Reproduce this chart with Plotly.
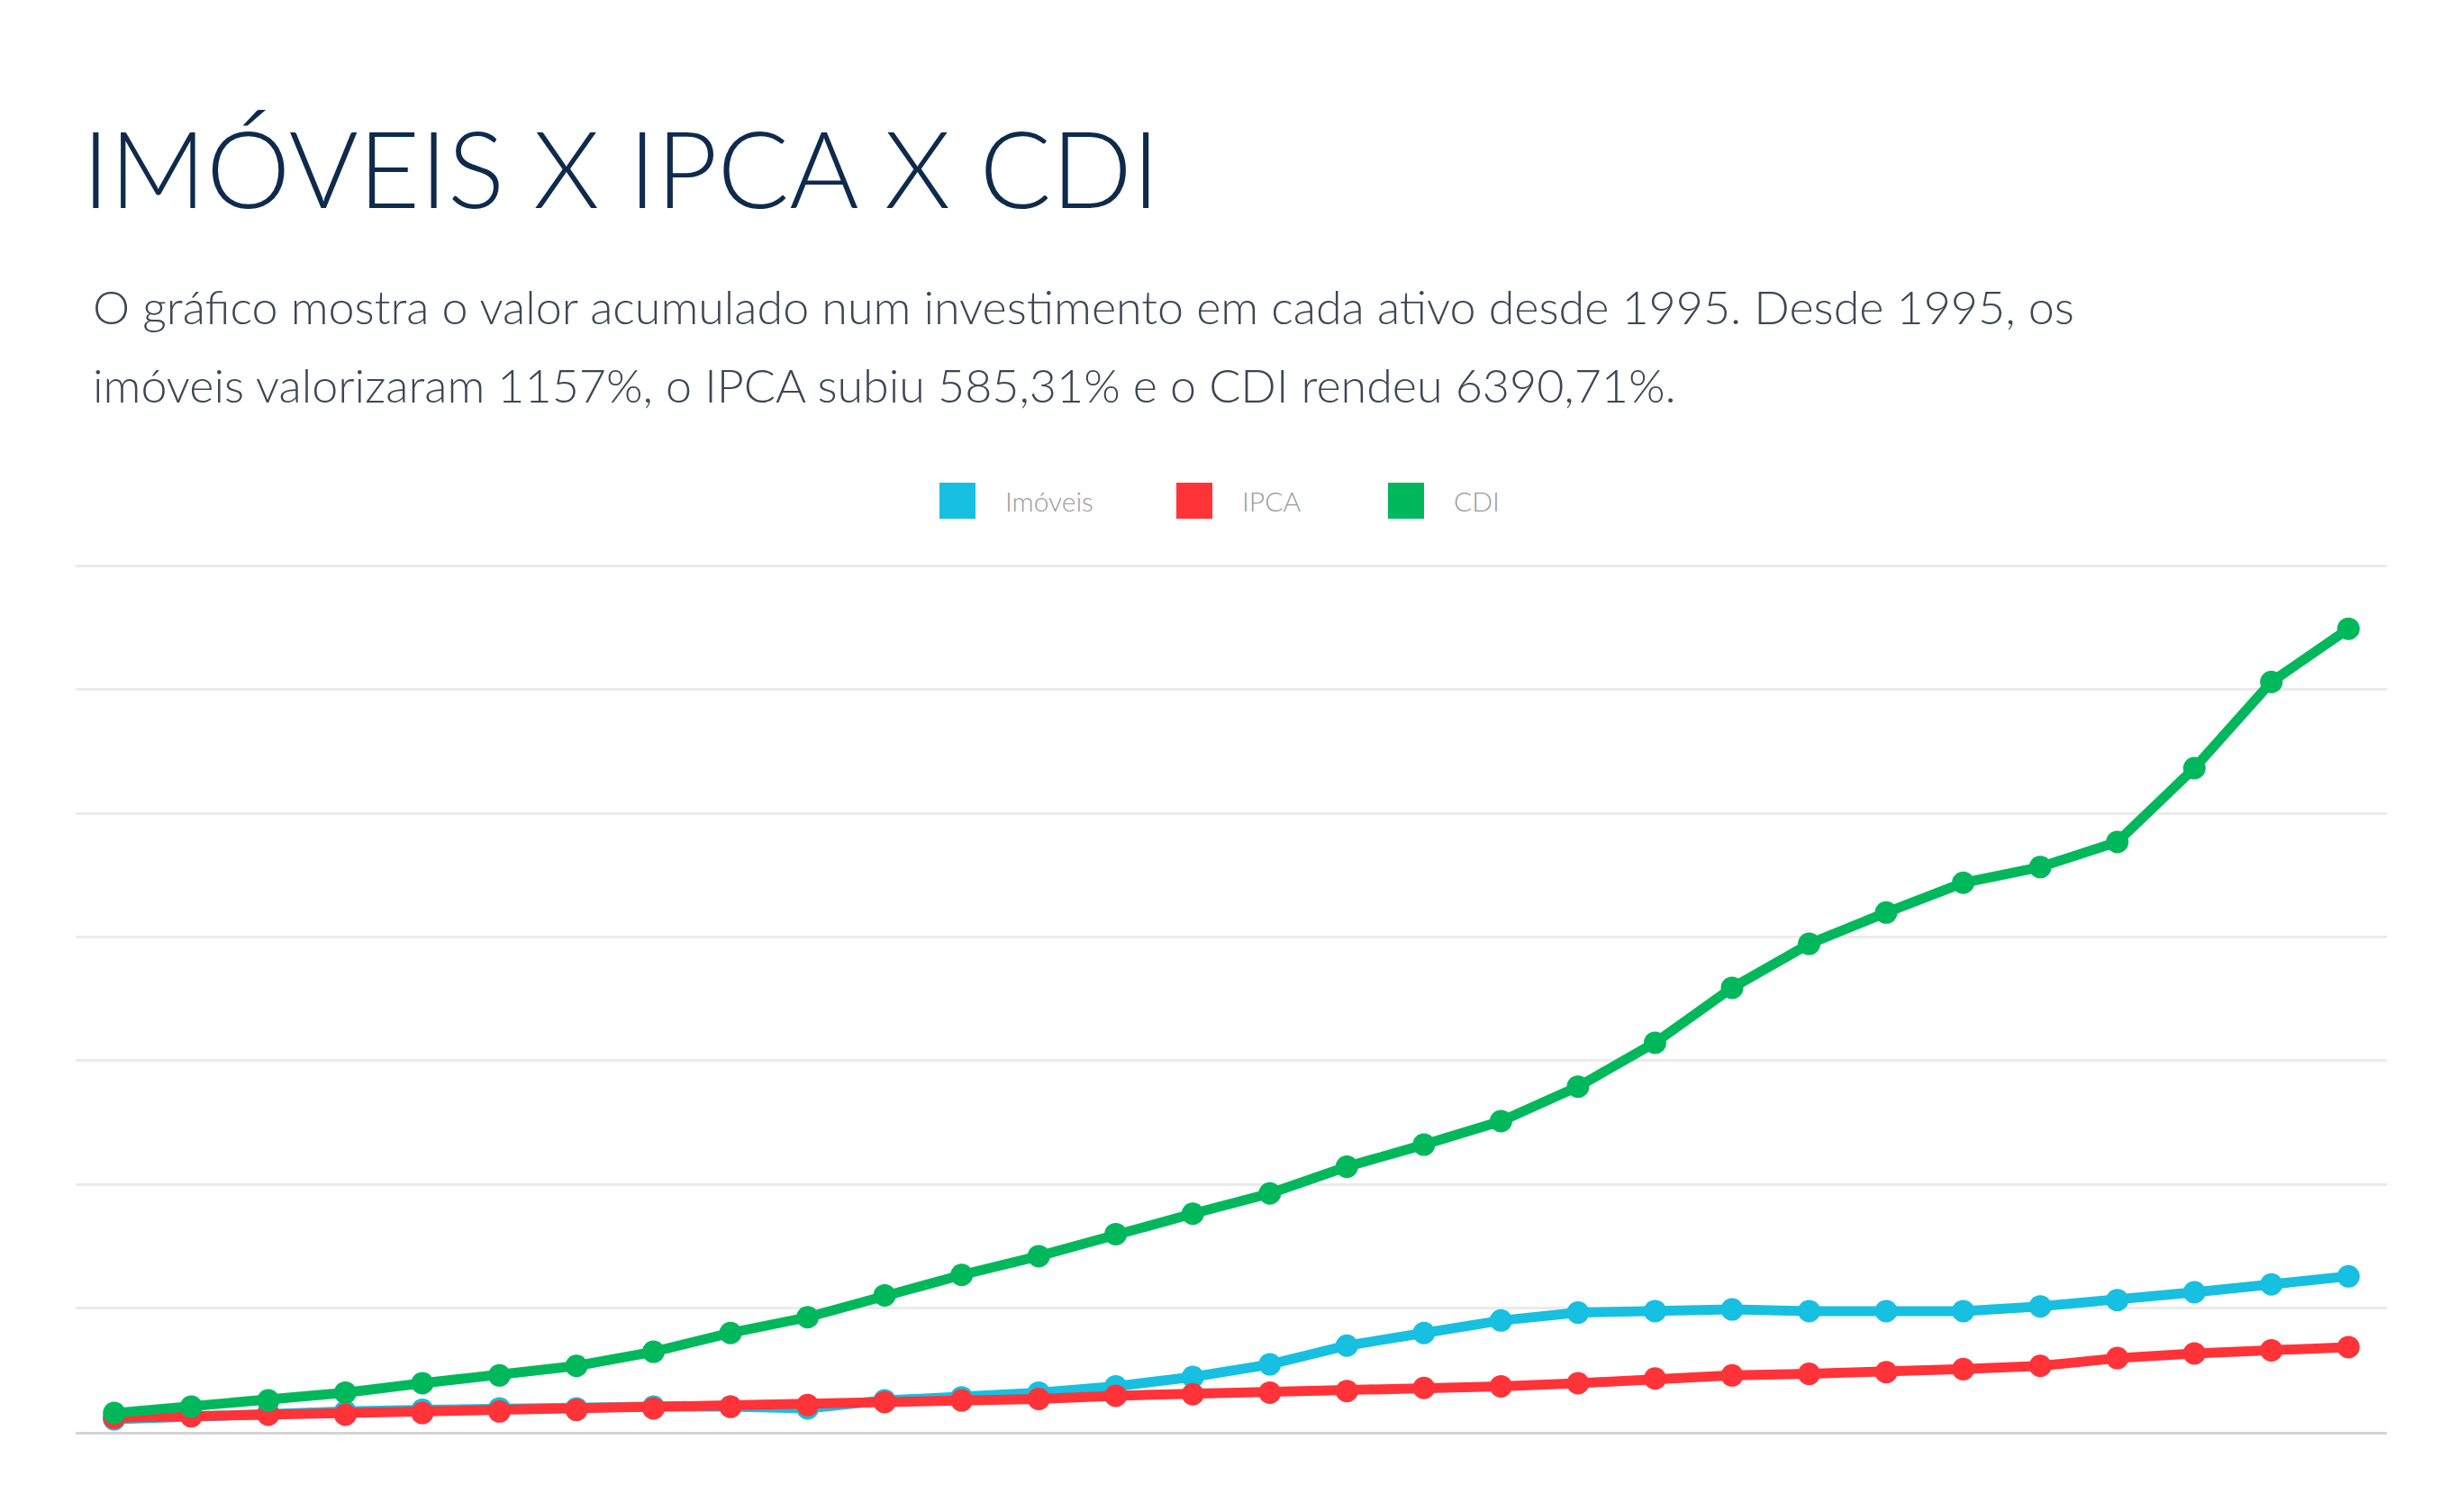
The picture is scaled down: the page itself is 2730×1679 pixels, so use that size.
import plotly.graph_objects as go

anos = [str(a) for a in range(1995, 2025)]

# valor acumulado (base ~100 em 1995)
imoveis = [101, 127, 152, 165, 178, 190, 190, 203, 203, 190,
           254, 279, 317, 368, 444, 545, 697, 799, 900, 964,
           976, 989, 976, 976, 976, 1014, 1065, 1128, 1192, 1257]
ipca = [114, 127, 139, 139, 152, 165, 178, 190, 203, 216,
        241, 254, 266, 292, 304, 317, 330, 355, 368, 393,
        431, 456, 469, 482, 507, 533, 596, 634, 659, 685]
cdi = [152, 203, 254, 317, 393, 456, 533, 647, 799, 926,
       1103, 1268, 1420, 1598, 1763, 1927, 2143, 2321, 2511, 2790,
       3145, 3589, 3944, 4197, 4438, 4565, 4768, 5364, 6061, 6491]

nomes = ["Imóveis", "IPCA", "CDI"]
cores = ["#17bfe0", "#ff3338", "#00b85c"]
series = [imoveis, ipca, cdi]

titulo = "IMÓVEIS X IPCA X CDI"
subtitulo_1 = "O gráfico mostra o valor acumulado num investimento em cada ativo desde 1995. Desde 1995, os"
subtitulo_2 = "imóveis valorizaram 1157%, o IPCA subiu 585,31% e o CDI rendeu 6390,71%."

# a pagina tem 8px de margem no body
OFF = 8
W, H = 2730 - 2 * OFF, 1679 - 2 * OFF
L, R, T, B = 84 - OFF, 80 - OFF, 620 - OFF, 89 - OFF
pw, ph = W - L - R, H - T - B


def px_x(px):
    return (px - OFF - L) / pw


def px_y(py):
    return (H - B - (py - OFF)) / ph


fig = go.Figure()
for nome, cor, valores in zip(nomes, cores, series):
    fig.add_trace(go.Scatter(
        x=anos, y=valores, name=nome, mode="lines+markers",
        line=dict(color=cor, width=11),
        marker=dict(color=cor, size=25),
        showlegend=False,
    ))

# legenda desenhada a mao (quadrados grandes)
leg_x = [1043, 1306, 1541]
for nome, cor, x0 in zip(nomes, cores, leg_x):
    fig.add_shape(type="rect", xref="paper", yref="paper",
                  x0=px_x(x0), x1=px_x(x0 + 40), y0=px_y(576), y1=px_y(536),
                  fillcolor=cor, line=dict(width=0))
    fig.add_annotation(text=nome, xref="paper", yref="paper",
                       x=px_x(x0 + 71), y=px_y(556), xanchor="left", yanchor="middle",
                       showarrow=False,
                       font=dict(family="Lato", size=30, color="#9a9a9a", weight=300))

for texto, y in [(subtitulo_1, 340), (subtitulo_2, 427)]:
    fig.add_annotation(text=texto, xref="paper", yref="paper",
                       x=px_x(101), y=px_y(y), xanchor="left", yanchor="middle",
                       showarrow=False,
                       font=dict(family="Lato", size=52, color="#3d4654", weight=300))

fig.update_layout(
    width=W, height=H,
    margin=dict(l=L, r=R, t=T, b=B),
    paper_bgcolor="white", plot_bgcolor="white",
    title=dict(text=titulo, x=(91 - OFF) / W, xanchor="left",
               y=1 - (190 - OFF) / H, yanchor="middle",
               font=dict(family="Lato", size=118, color="#0e2a4d", weight=300)),
    xaxis=dict(type="category", range=[-0.5, 29.5], showticklabels=False,
               showgrid=False, zeroline=False, showline=True,
               linecolor="#d4d4d4", linewidth=3),
    yaxis=dict(range=[0, 7060], dtick=1000, showticklabels=False,
               gridcolor="#ebebeb", gridwidth=3, zeroline=False),
)

fig.write_html("out.html")
